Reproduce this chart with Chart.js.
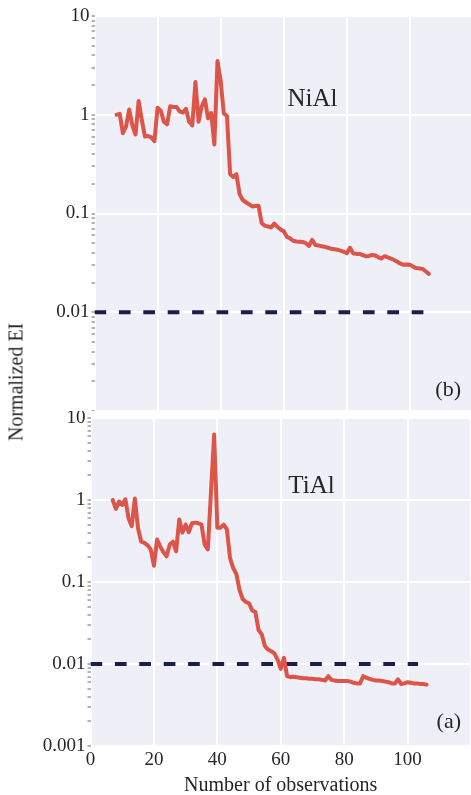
<!DOCTYPE html>
<html><head><meta charset="utf-8">
<script src="https://cdn.jsdelivr.net/npm/chart.js@4.4.0/dist/chart.umd.min.js"></script>
<style>
html,body{margin:0;padding:0;background:#fff;width:471px;height:795px;overflow:hidden;position:relative;}
#c1{position:absolute;left:0;top:0;}
#c2{position:absolute;left:0;top:411px;}
#ylab{position:absolute;left:16px;top:382px;transform:translate(-50%,-50%) rotate(-90deg);font-family:"Liberation Serif",serif;font-size:20px;white-space:nowrap;color:#262626;}
</style></head><body>
<canvas id="c1" width="473" height="411"></canvas>
<canvas id="c2" width="474" height="387"></canvas>
<div id="ylab">Normalized EI</div>
<script>
// ---- data ----
const niX = [7,8,9,10,11,12,13,14,15,16,17,18,19,20,21,22,23,24,25,26,27,28,29,30,31,32,33,34,35,36,37,38,39,40,41,42,43,44,45,46,47,48,49,50,51,52,53,54,55,56,57,58,59,60,61,62,63,64,65,66,67,68,69,70,71,72,73,74,75,76,77,78,79,80,81,82,83,84,85,86,87,88,89,90,91,92,93,94,95,96,97,98,99,100,101,102,103,104,105,106];
const niY = [1.0,1.02,0.65,0.76,1.13,0.78,0.63,1.38,0.88,0.6,0.61,0.59,0.54,1.18,1.1,0.85,0.8,1.22,1.2,1.2,1.08,1.05,1.15,0.85,0.78,2.15,0.85,1.22,1.43,0.92,1.04,0.5,3.5,2.2,1.03,0.97,0.25,0.235,0.25,0.157,0.137,0.13,0.124,0.118,0.119,0.12,0.08,0.075,0.074,0.072,0.079,0.073,0.069,0.066,0.058,0.056,0.053,0.052,0.0518,0.0515,0.05,0.047,0.054,0.048,0.0475,0.0465,0.046,0.045,0.044,0.0435,0.043,0.042,0.041,0.0395,0.045,0.0395,0.039,0.039,0.038,0.037,0.0372,0.038,0.0375,0.036,0.035,0.037,0.036,0.035,0.0338,0.0325,0.031,0.0302,0.0304,0.0302,0.029,0.028,0.0278,0.0275,0.026,0.0245];
const tiX = [7,8,9,10,11,12,13,14,15,16,17,18,19,20,21,22,23,24,25,26,27,28,29,30,31,32,33,34,35,36,37,39,40,41,42,43,44,45,46,47,48,49,50,51,52,53,54,55,56,57,58,59,60,61,62,63,64,65,66,67,68,69,70,71,72,73,74,75,76,77,78,79,80,81,82,83,84,85,86,87,88,89,90,91,92,93,94,95,96,97,98,99,100,101,102,103,104,105,106];
const tiY = [1.0,0.78,0.96,0.87,1.02,0.6,0.48,1.04,0.45,0.31,0.30,0.28,0.25,0.158,0.33,0.27,0.23,0.206,0.287,0.31,0.237,0.58,0.40,0.50,0.405,0.52,0.53,0.52,0.50,0.287,0.25,6.3,0.46,0.46,0.50,0.44,0.197,0.148,0.125,0.08,0.062,0.057,0.055,0.045,0.043,0.026,0.023,0.0166,0.015,0.0143,0.0135,0.0113,0.0087,0.0119,0.0071,0.0069,0.0070,0.0069,0.0068,0.0067,0.0067,0.0066,0.0066,0.0065,0.0065,0.0064,0.0063,0.0071,0.0064,0.0063,0.0062,0.0062,0.0062,0.0062,0.0061,0.0059,0.0058,0.0058,0.0071,0.0068,0.0066,0.0064,0.0063,0.0063,0.0062,0.0061,0.006,0.0058,0.0058,0.0065,0.0057,0.0058,0.006,0.0059,0.0058,0.0058,0.0057,0.0057,0.0056];
const thresholdY = 0.01;
const niThresholdX = [0, 104.6];
const tiThresholdX = [0, 103.3];
const xTickLabels = ['0','20','40','60','80','100'];
const topYLabels = ['0.01','0.1','1','10'];
const bottomYLabels = ['0.001','0.01','0.1','1','10'];
const yDecades = [0.001,0.01,0.1,1,10];

// ---- styles ----
const FONT = '"Liberation Serif", "Times New Roman", serif';
const BG = '#EFEFF7';
const RED = 'rgb(221,84,72)';
const NAVY = '#1c1e4a';
const TXT = '#262626';

const bgPlugin = {
  id: 'bg',
  beforeDraw(chart) {
    const {ctx, chartArea: a} = chart;
    ctx.save(); ctx.fillStyle = BG;
    ctx.fillRect(a.left, a.top, a.right - a.left, a.bottom - a.top);
    ctx.restore();
  }
};
const textPlugin = {
  id: 'notes',
  afterDatasetsDraw(chart, args, opts) {
    const ctx = chart.ctx;
    ctx.save(); ctx.fillStyle = TXT; ctx.textBaseline = 'middle';
    for (const t of opts.items) {
      ctx.font = t.size + 'px ' + FONT;
      ctx.textAlign = t.align;
      ctx.fillText(t.text, t.x, t.y);
    }
    ctx.restore();
  }
};

function yScale(labels, leftW) {
  return {
    type: 'logarithmic', min: 0.001, max: 10,
    afterFit: s => { s.width = leftW; s.paddingTop = 0; s.paddingBottom = 0; },
    afterBuildTicks: s => {
      const t = [];
      for (let i = 0; i < yDecades.length; i++) {
        const d = yDecades[i];
        t.push({value: d, major: true});
        if (i < yDecades.length - 1) for (let m = 2; m <= 9; m++) t.push({value: +(d*m).toPrecision(3), major: false});
      }
      s.ticks = t;
    },
    border: {display: false},
    grid: {
      color: c => (c.tick && c.tick.major) ? '#ffffff' : 'rgba(0,0,0,0)',
      lineWidth: 2,
      tickColor: '#6b6b6b', tickLength: 3, tickWidth: 1
    },
    ticks: {
      autoSkip: false, padding: 2, color: TXT,
      font: {family: FONT, size: 19},
      callback: function(v, i, ticks){
        if (!ticks[i].major) return '';
        const k = yDecades.indexOf(ticks[i].value);
        const s = bottomYLabels[k];
        return labels.includes(s) ? s : '';
      }
    }
  };
}

function lineDs(xs, ys) {
  return {
    data: xs.map((x, i) => ({x, y: ys[i]})),
    borderColor: RED, borderWidth: 4, pointRadius: 0, tension: 0,
    borderJoinStyle: 'round', borderCapStyle: 'round', order: 0
  };
}
function threshDs(xs) {
  return {
    data: xs.map(x => ({x, y: thresholdY})),
    borderColor: NAVY, borderWidth: 4, borderDash: [11.7, 12.7], pointRadius: 0, order: 1
  };
}

const common = {
  responsive: false, animation: false, devicePixelRatio: 1,
  plugins: {legend: {display: false}, tooltip: {enabled: false}}
};

new Chart(document.getElementById('c1'), {
  type: 'line',
  data: {datasets: [lineDs(niX, niY), threshDs(niThresholdX)]},
  plugins: [bgPlugin, textPlugin],
  options: Object.assign({}, common, {
    layout: {padding: {top: 16, left: 0, right: 0, bottom: 0}},
    plugins: Object.assign({}, common.plugins, {
      notes: {items: [
        {text: 'NiAl', x: 312.5, y: 99, size: 25, align: 'center'},
        {text: '(b)', x: 461, y: 390, size: 22, align: 'right'}
      ]}
    }),
    scales: {
      x: {
        type: 'linear', min: 0, max: 120,
        afterFit: s => { s.height = 0; },
        border: {display: false},
        grid: {color: '#ffffff', lineWidth: 2, drawTicks: false},
        ticks: {display: false, stepSize: 20}
      },
      y: yScale(topYLabels, 94.5)
    }
  })
});

new Chart(document.getElementById('c2'), {
  type: 'line',
  data: {datasets: [lineDs(tiX, tiY), threshDs(tiThresholdX)]},
  plugins: [bgPlugin, textPlugin],
  options: Object.assign({}, common, {
    layout: {padding: {top: 7, left: 0, right: 0, bottom: 0}},
    plugins: Object.assign({}, common.plugins, {
      notes: {items: [
        {text: 'TiAl', x: 311.5, y: 75, size: 25, align: 'center'},
        {text: '(a)', x: 461, y: 311, size: 22, align: 'right'}
      ]}
    }),
    scales: {
      x: {
        type: 'linear', min: 0, max: 120,
        afterFit: s => { s.height = 52; },
        border: {display: false},
        grid: {color: '#ffffff', lineWidth: 2, drawTicks: false},
        ticks: {
          stepSize: 20, padding: 3, color: TXT, font: {family: FONT, size: 19},
          callback: v => xTickLabels.includes(String(v)) ? String(v) : ''
        },
        title: {display: true, text: 'Number of observations', color: TXT,
                font: {family: FONT, size: 20}, padding: {top: 0, bottom: 0}}
      },
      y: yScale(bottomYLabels, 90.5)
    }
  })
});
</script>
</body></html>
